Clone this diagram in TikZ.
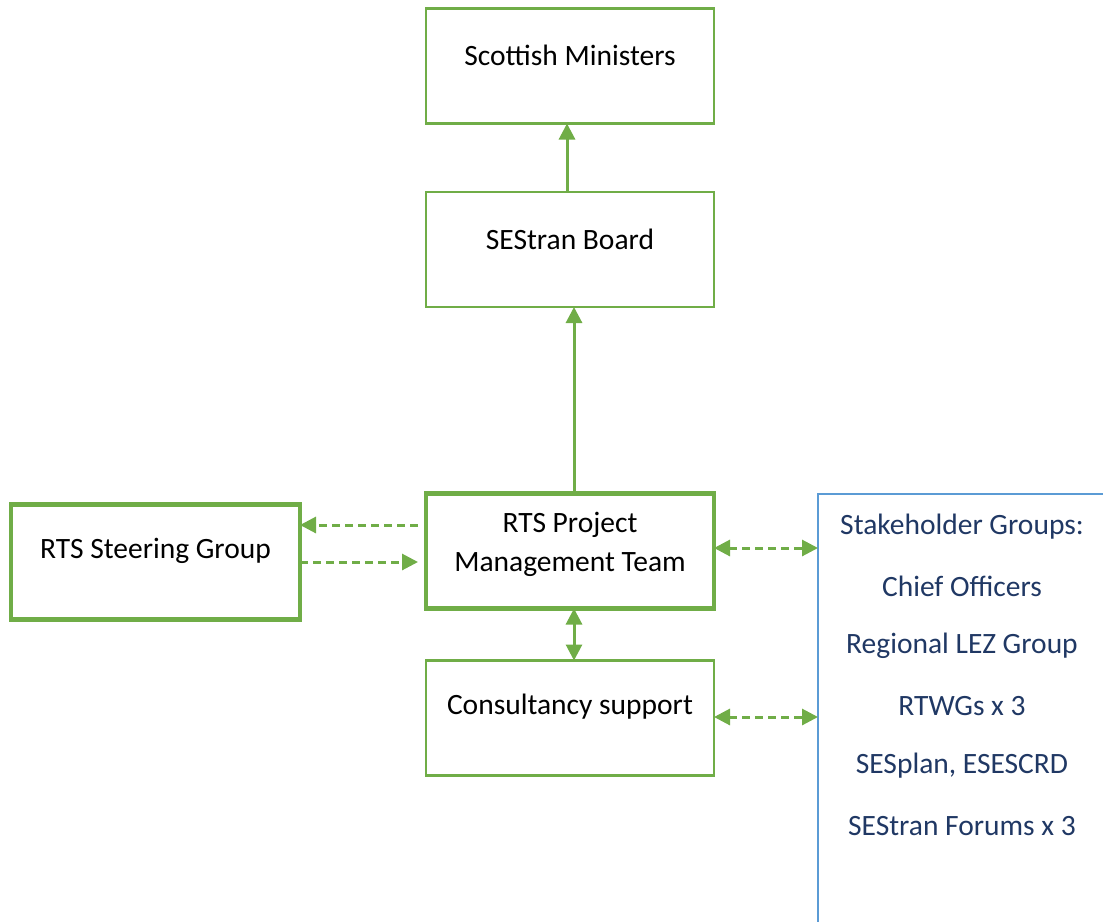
\documentclass[tikz,border=0pt]{standalone}
\usepackage{fontspec}
\setmainfont{Carlito}
\usetikzlibrary{arrows.meta}
\definecolor{ogreen}{HTML}{70AD47}
\definecolor{oblue}{HTML}{5B9BD5}
\definecolor{dblue}{HTML}{203864}
\begin{document}
\begin{tikzpicture}[x=1pt,y=1pt,
  box/.style={draw=ogreen,line width=2.5pt,minimum width=288pt,minimum height=115pt,inner sep=0pt,outer sep=0pt},
  thickbox/.style={box,line width=4.5pt},
  lbl/.style={font=\fontsize{29.5}{39}\selectfont,text=black,inner sep=0pt,align=center},
  slbl/.style={font=\fontsize{29.5}{36}\selectfont,text=dblue,inner sep=0pt},
  solidarrow/.style={draw=ogreen,line width=3pt,-{Triangle[length=16pt,width=16pt]}},
  dasharrow/.style={draw=ogreen,line width=3pt,dash pattern=on 8pt off 5pt,-{Triangle[length=16pt,width=16pt]}},
  dashboth/.style={draw=ogreen,line width=3pt,dash pattern=on 8pt off 5pt,{Triangle[length=16pt,width=16pt]}-{Triangle[length=16pt,width=16pt]}},
  solidboth/.style={draw=ogreen,line width=3pt,{Triangle[length=16pt,width=16pt]}-{Triangle[length=16pt,width=16pt]}}
]
\useasboundingbox (0,0) rectangle (1103,-921);
\begin{scope}
\clip (0,0) rectangle (1103,-921);
\node[draw=oblue,line width=2.5pt,minimum width=320pt,minimum height=460pt,inner sep=0pt,outer sep=0pt,anchor=north west] (stake) at (818,-494) {};
\end{scope}

\node[box] (sm) at (570,-66) {};
\node[lbl] (smt) at (570,-55) {Scottish Ministers};
\node[box] (sb) at (570,-249.5) {};
\node[lbl] (sbt) at (570,-239) {SEStran Board};
\node[thickbox] (pmt) at (570,-551) {};
\node[lbl] (pmtt) at (570,-544.5) {RTS Project\\Management Team};
\node[thickbox,minimum width=289pt] (sg) at (155.5,-562) {};
\node[lbl] (sgt) at (155.5,-551) {RTS Steering Group};
\node[box] (cs) at (570,-718) {};
\node[lbl] (cst) at (570,-707) {Consultancy support};

\node[slbl] (s1) at (962,-527) {Stakeholder Groups:};
\node[slbl] (s2) at (962,-586) {Chief Officers};
\node[slbl] (s3) at (962,-646) {Regional LEZ Group};
\node[slbl] (s4) at (962,-706) {RTWGs x 3};
\node[slbl] (s5) at (962,-766) {SESplan, ESESCRD};
\node[slbl] (s6) at (962,-826) {SEStran Forums x 3};

\draw[solidarrow] (sb.north -| 567,0) -- (sm.south -| 567,0);
\draw[solidarrow] (pmt.north -| 574,0) -- (sb.south -| 574,0);
\draw[solidboth] (pmt.south -| 574,0) -- (cs.north -| 574,0);
\draw[dasharrow,shorten <=8pt] (pmt.west |- 0,-525) -- (sg.east |- 0,-525);
\draw[dasharrow,shorten >=8pt] (sg.east |- 0,-562) -- (pmt.west |- 0,-562);
\draw[dashboth] (pmt.east |- 0,-548) -- (stake.west |- 0,-548);
\draw[dashboth] (cs.east |- 0,-717) -- (stake.west |- 0,-717);
\end{tikzpicture}
\end{document}
